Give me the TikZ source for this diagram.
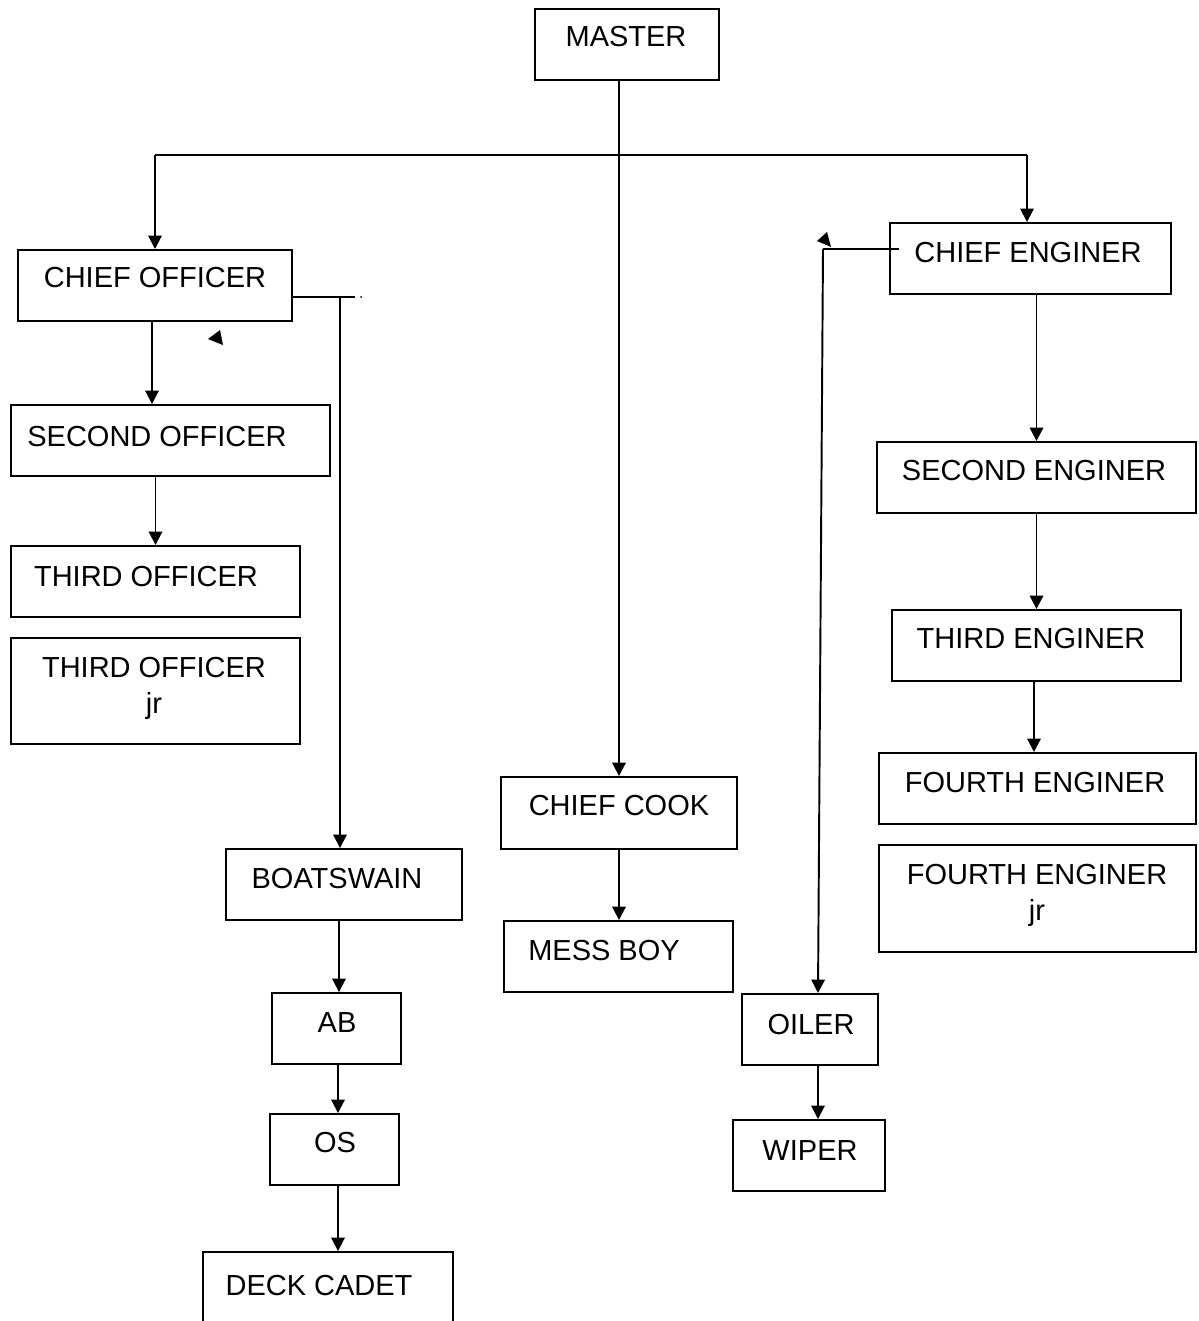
\documentclass[tikz,border=0pt]{standalone}
\usepackage{fontspec}
\setmainfont{Liberation Sans}
\usetikzlibrary{calc,arrows.meta}

\begin{document}
\begin{tikzpicture}[x=0.02cm, y=-0.02cm, line width=1.1pt,
    >={Triangle[length=0.27cm, width=0.27cm]},
    box/.style={draw, rectangle, inner sep=0pt},
    lbl/.style={anchor=base, inner sep=0pt, align=center,
      font=\fontsize{16.5}{20.4}\selectfont, text depth=0pt}]
  \useasboundingbox (0,0) rectangle (1198,1321);
  \clip (0,0) rectangle (1198,1321);

  % boxes
  \node[box, minimum width=184*0.02cm, minimum height=71*0.02cm] (master) at (627,44.5) {};
  \node[box, minimum width=274*0.02cm, minimum height=71*0.02cm] (co) at (155,285.5) {};
  \node[box, minimum width=319*0.02cm, minimum height=71*0.02cm] (so) at (170.5,440.5) {};
  \node[box, minimum width=289*0.02cm, minimum height=71*0.02cm] (to) at (155.5,581.5) {};
  \node[box, minimum width=289*0.02cm, minimum height=106*0.02cm] (tojr) at (155.5,691) {};
  \node[box, minimum width=236*0.02cm, minimum height=71*0.02cm] (bosun) at (344,884.5) {};
  \node[box, minimum width=129*0.02cm, minimum height=71*0.02cm] (ab) at (336.5,1028.5) {};
  \node[box, minimum width=129*0.02cm, minimum height=71*0.02cm] (os) at (334.5,1149.5) {};
  \node[box, minimum width=250*0.02cm, minimum height=88*0.02cm] (cadet) at (328,1296) {};
  \node[box, minimum width=236*0.02cm, minimum height=72*0.02cm] (cook) at (619,813) {};
  \node[box, minimum width=229*0.02cm, minimum height=71*0.02cm] (mess) at (618.5,956.5) {};
  \node[box, minimum width=281*0.02cm, minimum height=71*0.02cm] (ce) at (1030.5,258.5) {};
  \node[box, minimum width=319*0.02cm, minimum height=71*0.02cm] (se) at (1036.5,477.5) {};
  \node[box, minimum width=289*0.02cm, minimum height=71*0.02cm] (te) at (1036.5,645.5) {};
  \node[box, minimum width=317*0.02cm, minimum height=71*0.02cm] (fe) at (1037.5,788.5) {};
  \node[box, minimum width=317*0.02cm, minimum height=107*0.02cm] (fejr) at (1037.5,898.5) {};
  \node[box, minimum width=136*0.02cm, minimum height=71*0.02cm] (oiler) at (810,1029.5) {};
  \node[box, minimum width=152*0.02cm, minimum height=71*0.02cm] (wiper) at (809,1155.5) {};

  % texts
  \node[lbl] (tmaster) at (626,47) {MASTER};
  \node[lbl] (tco) at (155,287) {CHIEF OFFICER};
  \node[lbl] (tso) at (157,446) {SECOND OFFICER};
  \node[lbl] (tto) at (146,586) {THIRD OFFICER};
  \node[lbl] (ttojr) at (154,713) {THIRD OFFICER\\jr};
  \node[lbl] (tbosun) at (337,888) {BOATSWAIN};
  \node[lbl] (tab) at (337,1032) {AB};
  \node[lbl] (tos) at (335,1152) {OS};
  \node[lbl] (tcadet) at (319,1295) {DECK CADET};
  \node[lbl] (tcook) at (619,815) {CHIEF COOK};
  \node[lbl] (tmess) at (604,960) {MESS BOY};
  \node[lbl] (tce) at (1028,262) {CHIEF ENGINER};
  \node[lbl] (tse) at (1034,480) {SECOND ENGINER};
  \node[lbl] (tte) at (1031,648) {THIRD ENGINER};
  \node[lbl] (tfe) at (1035,792) {FOURTH ENGINER};
  \node[lbl] (tfejr) at (1037,920) {FOURTH ENGINER\\jr};
  \node[lbl] (toiler) at (811,1034) {OILER};
  \node[lbl] (twiper) at (810,1160) {WIPER};

  % turning points
  \coordinate (barL) at (155,155);
  \coordinate (barR) at (1027,155);
  \coordinate (xco) at (152,0);
  \coordinate (coj) at (340,297);
  \coordinate (xab) at (339,0);
  \coordinate (xos) at (338,0);
  \coordinate (cej) at (823,249);
  \coordinate (xoil) at (818,0);
  \coordinate (xfe) at (1034,0);

  % connectors
  \draw[->] (cook.north |- master.south) -- (cook.north);
  \draw (barL) -- (barR);
  \draw[->] (barL) -- (co.north);
  \draw[->] (barR) -- (barR |- ce.north);
  \draw[->] (co.south -| xco) -- (so.north -| xco);
  \draw[->] (so.south -| to.north) -- (to.north);
  \draw (co.east |- coj) -- ($(coj)+(15,0)$);
  \draw[->] (coj) -- (bosun.north -| coj);
  \draw[->] (bosun.south -| xab) -- (ab.north -| xab);
  \draw[->] (ab.south -| xos) -- (os.north -| xos);
  \draw[->] (os.south -| xos) -- (cadet.north -| xos);
  \draw[->] (cook.south) -- (mess.north -| cook.south);
  \draw[->] (ce.south -| se.north) -- (se.north);
  \draw[->] (se.south) -- (te.north -| se.south);
  \draw[->] (te.south -| xfe) -- (fe.north -| xfe);
  \draw ($(ce.west |- cej)+(10,0)$) -- (cej);
  \draw[->] (cej) -- (oiler.north -| xoil);
  \draw[->] (oiler.south -| xoil) -- (wiper.north -| xoil);

  % stray marks
  \fill (817,241) -- (827,232) -- (831,247) -- cycle;
  \fill (208,339) -- (220,330) -- (223,345) -- cycle;
  \fill (361,297) circle (1);
\end{tikzpicture}
\end{document}
